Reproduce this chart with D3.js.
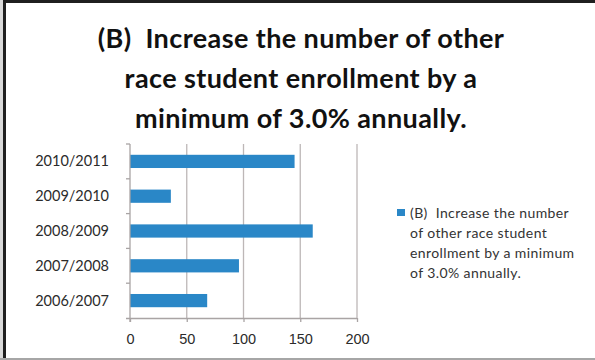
<!DOCTYPE html>
<html>
<head>
<meta charset="utf-8">
<title>Other race student enrollment</title>
<style>
    body {
        margin: 0;
        background-color: white;
    }
    svg {
        display: block;
        font-family: Lato, "Open Sans", sans-serif;
    }
    text {
        white-space: pre;
    }
    .grid line {
        stroke: #bdb7b7;
        stroke-width: 1.3px;
    }
    .axis text {
        fill: #2b2b2b;
        font-size: 14.5px;
    }
    .axis path,
    .axis line {
        stroke: #a9a4a4;
        stroke-width: 1.3px;
    }
</style>
</head>
<body>
<svg id="chart" width="595" height="360"></svg>
<script src="https://d3js.org/d3.v7.min.js"></script>
<script>
    // values
    var years = ["2010/2011", "2009/2010", "2008/2009", "2007/2008", "2006/2007"];
    var counts = [145, 36, 161, 96, 68];
    var xTicks = [0, 50, 100, 150, 200];
    var titleLines = ["(B)  Increase the number of other", "race student enrollment by a", "minimum of 3.0% annually."];
    var legendLines = ["(B)  Increase the number", "of other race student", "enrollment by a minimum", "of 3.0% annually."];

    var svg = d3.select("#chart");

    // frame: thick dark left / top edge, thin grey bottom
    svg.append("rect").attr("x", 0).attr("y", 0).attr("width", 3).attr("height", 360).attr("fill", "#d9d9d9");
    svg.append("rect").attr("x", 3).attr("y", 0).attr("width", 3).attr("height", 360).attr("fill", "#1f1f1f");
    svg.append("rect").attr("x", 3).attr("y", 0).attr("width", 592).attr("height", 3).attr("fill", "#1f1f1f");
    svg.append("rect").attr("x", 0).attr("y", 358).attr("width", 595).attr("height", 2).attr("fill", "#a6a6a6");

    // title
    svg.append("g").selectAll("text")
        .data(titleLines)
        .enter().append("text")
        .attr("x", 301)
        .attr("y", function(d, i) { return 48 + i * 40; })
        .attr("text-anchor", "middle")
        .style("font-size", "27px")
        .style("font-weight", "bold")
        .style("letter-spacing", "0.4px")
        .style("fill", "#111")
        .text(function(d) { return d; });

    var x = d3.scaleLinear().domain([0, 200]).range([130, 357]);
    var y = d3.scaleBand().domain(years).range([144, 318]).paddingInner(0.62).paddingOuter(0.31);
    var yb = d3.scaleBand().domain(years).range([144, 318]);

    // vertical gridlines
    svg.append("g").attr("class", "grid")
        .selectAll("line")
        .data(xTicks.slice(1))
        .enter().append("line")
        .attr("x1", function(d) { return x(d); })
        .attr("x2", function(d) { return x(d); })
        .attr("y1", 144)
        .attr("y2", 318);

    // bars
    svg.append("g").selectAll("rect")
        .data(years)
        .enter().append("rect")
        .attr("x", x(0))
        .attr("y", function(d) { return y(d); })
        .attr("width", function(d, i) { return x(counts[i]) - x(0); })
        .attr("height", y.bandwidth())
        .attr("fill", "#2a87c7");

    // x axis
    var xAxis = svg.append("g").attr("class", "axis")
        .attr("transform", "translate(0,318)")
        .call(d3.axisBottom(x).tickValues(xTicks).tickSize(4).tickSizeOuter(0).tickPadding(12));
    xAxis.select(".domain").attr("d", "M126,0.5H" + x(200));

    // y axis with ticks between categories
    var yAxis = svg.append("g").attr("class", "axis")
        .attr("transform", "translate(" + x(0) + ",0)");
    yAxis.append("line").attr("x1", 0).attr("x2", 0).attr("y1", 144).attr("y2", 322);
    yAxis.selectAll(".tk")
        .data(years)
        .enter().append("line")
        .attr("class", "tk")
        .attr("x1", -4).attr("x2", 0)
        .attr("y1", function(d) { return yb(d); })
        .attr("y2", function(d) { return yb(d); });
    yAxis.selectAll("text")
        .data(years)
        .enter().append("text")
        .attr("x", -21)
        .attr("y", function(d) { return yb(d) + yb.bandwidth() / 2; })
        .attr("dy", "0.35em")
        .attr("text-anchor", "end")
        .text(function(d) { return d; });

    // legend
    var legend = svg.append("g").attr("transform", "translate(397,0)");
    legend.append("rect")
        .attr("x", 0).attr("y", 209)
        .attr("width", 8).attr("height", 7)
        .attr("fill", "#2a87c7");
    legend.selectAll("text")
        .data(legendLines)
        .enter().append("text")
        .attr("x", 13)
        .attr("y", function(d, i) { return 213 + i * 20; })
        .attr("dy", "0.35em")
        .style("font-size", "14px")
        .style("letter-spacing", "0.4px")
        .style("fill", "#333")
        .text(function(d) { return d; });
</script>
</body>
</html>
